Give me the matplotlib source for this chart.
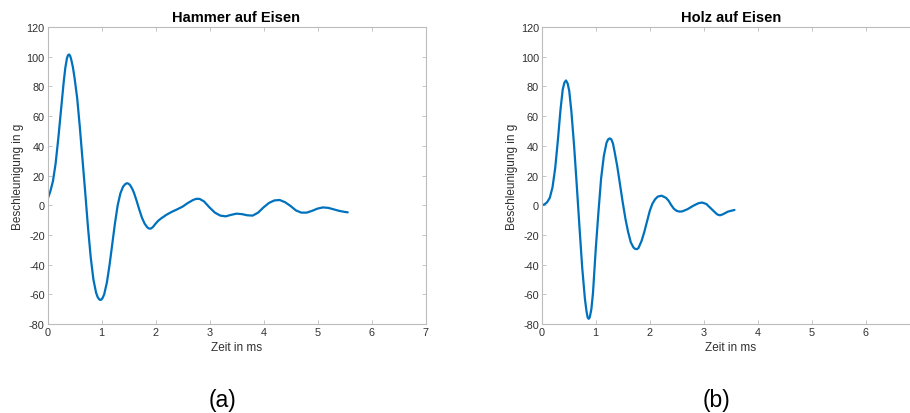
import matplotlib
matplotlib.use("Agg")
import matplotlib.pyplot as plt

plt.rcParams['font.family'] = ['Liberation Sans', 'DejaVu Sans']
plt.rcParams['axes.unicode_minus'] = False

# Hammer auf Eisen
t_a = [0.00, 0.05, 0.10, 0.15, 0.20, 0.25, 0.30, 0.33, 0.36, 0.38, 0.40, 0.42, 0.44, 0.47,
       0.50, 0.55, 0.60, 0.65, 0.70, 0.75, 0.80, 0.85, 0.90, 0.93, 0.96, 0.98, 1.00, 1.02,
       1.05, 1.10, 1.15, 1.20, 1.25, 1.30, 1.35, 1.40, 1.44, 1.47, 1.50, 1.53, 1.57, 1.60,
       1.65, 1.70, 1.75, 1.80, 1.85, 1.88, 1.91, 1.95, 2.00, 2.05, 2.10, 2.20, 2.30, 2.40,
       2.50, 2.60, 2.70, 2.76, 2.82, 2.90, 3.00, 3.10, 3.20, 3.30, 3.40, 3.50, 3.60, 3.70,
       3.80, 3.90, 4.00, 4.10, 4.20, 4.30, 4.40, 4.50, 4.60, 4.70, 4.80, 4.90, 5.00, 5.10,
       5.20, 5.30, 5.40, 5.50, 5.56]
a_a = [4, 9, 16, 28, 45, 64, 83, 92.5, 99, 101, 101.5, 100.5, 98, 93,
       86, 72, 52, 30, 8, -15, -35, -50, -59, -62, -63.5, -63.8, -63.5, -62.5,
       -60, -52, -40, -26, -12, 0, 8, 12.5, 14.2, 14.8, 14.5, 13.5, 11, 8.5,
       3, -3, -8.5, -12.5, -15, -15.7, -15.8, -14.8, -12.5, -10.5, -9, -6.5, -4.5, -2.8,
       -1, 1.5, 3.6, 4.3, 4.2, 2.5, -1.5, -5, -7, -7.5, -6.5, -5.7, -6, -6.8,
       -7, -5, -1.5, 1.5, 3.2, 3.5, 2, -0.5, -3.5, -5, -5, -3.8, -2.3, -1.5,
       -1.8, -2.8, -3.8, -4.5, -4.8]

# Holz auf Eisen
t_b = [0.00, 0.05, 0.10, 0.15, 0.20, 0.25, 0.30, 0.35, 0.39, 0.42, 0.45, 0.48, 0.51, 0.55,
       0.60, 0.65, 0.70, 0.75, 0.80, 0.83, 0.85, 0.87, 0.89, 0.92, 0.95, 1.00, 1.05, 1.10,
       1.15, 1.20, 1.23, 1.26, 1.29, 1.32, 1.35, 1.40, 1.45, 1.50, 1.55, 1.60, 1.65, 1.70,
       1.73, 1.76, 1.79, 1.85, 1.90, 1.95, 2.00, 2.05, 2.10, 2.15, 2.22, 2.30, 2.35, 2.40,
       2.45, 2.50, 2.55, 2.60, 2.70, 2.80, 2.90, 2.97, 3.05, 3.10, 3.20, 3.25, 3.30, 3.35,
       3.45, 3.57]
a_b = [0, 0.5, 2, 5, 12, 25, 44, 65, 78, 82.5, 84, 82, 77, 63,
       40, 13, -15, -42, -63, -71.5, -75.5, -76.5, -75.5, -70, -59, -30, -5, 18,
       33, 42, 44.3, 45, 44.3, 41.5, 36, 26, 14, 2, -9, -18, -25, -28.5,
       -29.4, -29.6, -29, -24, -18, -11, -4, 1, 4, 5.8, 6.4, 5, 3, 0,
       -2.5, -3.8, -4.3, -4.2, -2.7, -0.5, 1.3, 1.8, 0.8, -1, -4.5, -6.2, -6.8, -6.2,
       -4.3, -3.2]

titles = ["Hammer auf Eisen", "Holz auf Eisen"]
panel_labels = ["(a)", "(b)"]
xticks_list = [[0, 1, 2, 3, 4, 5, 6, 7], [0, 1, 2, 3, 4, 5, 6]]
yticks = [-80, -60, -40, -20, 0, 20, 40, 60, 80, 100, 120]

W, H = 910, 414
fig = plt.figure(figsize=(W / 100, H / 100), dpi=100)

ax_w = 378 / W
ax_h = 297 / H
ax_b = 1 - 325 / H
lefts = [47.5 / W, 541.7 / W]
label_x = [222 / W, 716 / W]

line_color = '#0072BD'
spine_color = '#bcbcbc'
text_color = '#303030'

for i, (t, a) in enumerate([(t_a, a_a), (t_b, a_b)]):
    ax = fig.add_axes([lefts[i], ax_b, ax_w, ax_h])
    ax.plot(t, a, color=line_color, lw=1.6, solid_joinstyle='round', solid_capstyle='round')
    ax.set_xlim(0, 7)
    ax.set_ylim(-80, 120)
    ax.set_xticks(xticks_list[i])
    ax.set_yticks(yticks)
    ax.tick_params(direction='in', top=True, right=True, length=3, width=0.6,
                   color=spine_color, labelsize=7.8, labelcolor=text_color, pad=2)
    for s in ax.spines.values():
        s.set_color(spine_color)
        s.set_linewidth(0.8)
    ax.set_title(titles[i], fontsize=10.5, fontweight='bold', pad=4, color='black')
    ax.set_xlabel("Zeit in ms", fontsize=8.5, color=text_color, labelpad=3)
    ax.set_ylabel("Beschleunigung in g", fontsize=8.5, color=text_color, labelpad=2)
    fig.text(label_x[i], 1 - 401 / H, panel_labels[i], fontsize=16.5, ha='center', va='center')

fig.savefig("out.png", dpi=100)
